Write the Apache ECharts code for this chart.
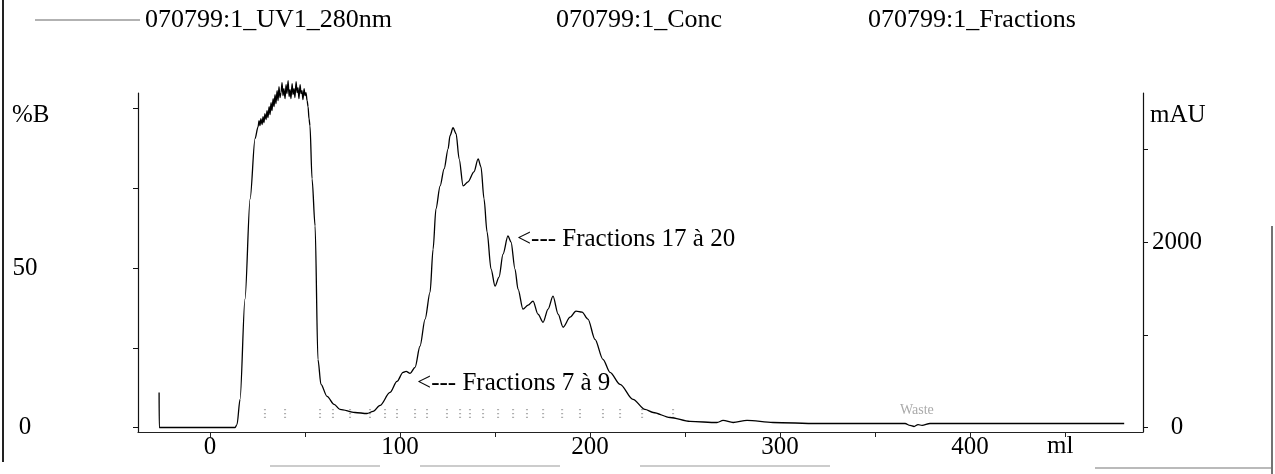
<!DOCTYPE html>
<html>
<head>
<meta charset="utf-8">
<script src="https://cdn.jsdelivr.net/npm/echarts@6/dist/echarts.min.js"></script>
<style>
  html, body { margin: 0; padding: 0; background: #fff; }
  #chart { width: 1275px; height: 474px; }
</style>
</head>
<body>
<div id="chart"></div>
<script>
// UV 280 nm trace: elution volume (ml) and absorbance (mAU)
const uvVolume = [
  -26.8, -26.7, 13.2, 14.2, 15.8, 18.4, 21.1, 23.7,
  25.3, 25.8, 26.3, 26.8, 27.4, 27.9, 28.4, 28.9, 29.5, 30.0,
  30.5, 31.1, 31.6, 32.1, 32.6, 33.2, 33.7, 34.2, 34.7, 35.3,
  35.8, 36.3, 36.8, 37.4, 37.9, 38.4, 38.9, 39.5, 40.0, 40.5,
  41.1, 41.6, 42.1, 42.6, 43.2, 43.7, 44.2, 44.7, 45.3, 45.8,
  46.3, 46.8, 47.4, 47.9, 48.4, 48.9, 49.5, 50.0, 50.5, 51.1,
  51.6, 52.1,
  52.6, 53.7, 55.3, 56.8, 58.4, 61.6, 65.3, 68.4, 76.3, 82.6,
  85.8, 89.5, 94.7, 98.4, 101.6, 103.2, 105.3, 107.9, 110.5, 113.2,
  115.8, 117.4, 118.9, 121.1, 123.2, 125.3, 126.3, 127.9, 129.5, 131.1,
  133.2, 135.8, 138.9, 141.1, 142.6, 144.2, 145.8, 147.9, 150.0, 152.1,
  154.2, 156.8, 158.4, 160.5, 162.1, 164.7, 167.4, 170.0, 172.6, 175.3,
  177.9, 180.5, 183.2, 185.8, 189.5, 192.6, 195.8, 198.9, 202.6, 206.8,
  210.5, 215.8, 222.6, 228.9, 233.2, 242.1, 252.6, 266.8, 270.0, 275.3,
  282.6, 296.3, 319.5, 363.2, 365.8, 368.4, 370.5, 372.6, 374.7, 378.9,
  415.8, 481.1
];
const uvAbsorbance = [
  378, 0, 0, 32, 303, 1384, 2465, 3114,
  3243, 3308, 3254, 3330, 3265, 3351, 3286, 3384, 3319, 3416,
  3341, 3459, 3373, 3503, 3416, 3546, 3459, 3589, 3492, 3632,
  3524, 3676, 3557, 3611, 3719, 3578, 3654, 3546, 3697, 3600,
  3741, 3568, 3643, 3546, 3708, 3589, 3654, 3557, 3730, 3611,
  3665, 3546, 3697, 3600, 3632, 3535, 3654, 3578, 3611, 3524,
  3459, 3330,
  3254, 2681, 2173, 735, 465, 335, 249, 195, 162, 151,
  173, 238, 378, 497, 595, 605, 584, 649, 876, 1168,
  1459, 1924, 2357, 2605, 2789, 3005, 3146, 3232, 3168, 2897,
  2605, 2649, 2757, 2897, 2811, 2465, 2108, 1708, 1524, 1622,
  1870, 2065, 2000, 1708, 1492, 1276, 1319, 1362, 1222, 1135,
  1276, 1416, 1222, 1081, 1189, 1254, 1243, 1168, 951, 735,
  595, 465, 303, 195, 162, 108, 65, 54, 76, 54,
  76, 54, 43, 43, 43, 22, 11, 32, 22, 43,
  43, 43
];

// Fraction collector marks (ml)
const fractionVolume = [
  28.9, 39.5, 57.9, 64.7, 73.7, 84.2, 92.1, 98.4, 107.9, 114.2,
  124.7, 131.6, 136.8, 143.7, 151.6, 159.5, 166.8, 175.3, 185.3, 194.7,
  206.8, 215.8, 227.4, 243.7
];
const fractionMarkLevel = 150;   // mAU, height at which fraction ticks are drawn
const wasteVolume = 372;

// Axis ticks and labels
const xTickValues = [0, 50, 100, 150, 200, 250, 300, 350, 400, 450];
const xLabelValues = [0, 100, 200, 300, 400];
const concTickValues = [0, 25, 50, 75, 100];
const concLabelValues = [0, 50];
const uvTickValues = [0, 1000, 2000, 3000];
const uvLabelValues = [0, 2000];

const seriesNames = ['070799:1_UV1_280nm', '070799:1_Conc', '070799:1_Fractions'];

const FONT = "'Liberation Serif', 'Times New Roman', serif";
const uvData = uvVolume.map((v, i) => [v, uvAbsorbance[i]]);
const fractionData = fractionVolume.map(v => [v, fractionMarkLevel]);
const plain = v => String(v);

const chart = echarts.init(document.getElementById('chart'), null, { renderer: 'canvas' });

const legendBase = {
  orient: 'horizontal',
  selectedMode: false,
  itemGap: 0,
  padding: 0,
  textStyle: { fontFamily: FONT, fontSize: 26, color: '#000' }
};

chart.setOption({
  animation: false,
  backgroundColor: '#fff',
  legend: [
    Object.assign({}, legendBase, {
      data: [{ name: seriesNames[0], icon: 'path://M0,0H100V1H0Z', itemStyle: { color: '#666' } }],
      left: 35, top: 7, itemWidth: 105, itemHeight: 1.2
    }),
    Object.assign({}, legendBase, {
      data: [seriesNames[1]], left: 550, top: 7, itemWidth: 0, itemHeight: 0
    }),
    Object.assign({}, legendBase, {
      data: [seriesNames[2]], left: 863, top: 7, itemWidth: 0, itemHeight: 0
    })
  ],
  grid: { left: 138, right: 132, top: 93, bottom: 42 },
  xAxis: {
    type: 'value',
    min: -37.9,
    max: 491,
    axisLine: { onZero: false, lineStyle: { color: '#222', width: 1.2 } },
    axisTick: { show: true, customValues: xTickValues, length: 5, lineStyle: { color: '#222' } },
    axisLabel: { customValues: xLabelValues, margin: 3, formatter: plain, fontFamily: FONT, fontSize: 25, color: '#000' },
    splitLine: { show: false }
  },
  yAxis: [
    {
      type: 'value',
      position: 'left',
      min: -1.41,
      max: 104.86,
      axisLine: { show: true, onZero: false, lineStyle: { color: '#111', width: 1.2 } },
      axisTick: { show: true, customValues: concTickValues, length: 5, lineStyle: { color: '#111' } },
      axisLabel: { customValues: concLabelValues, margin: 113, align: 'center', formatter: plain, fontFamily: FONT, fontSize: 25, color: '#000' },
      splitLine: { show: false }
    },
    {
      type: 'value',
      position: 'right',
      min: -48.5,
      max: 3606.5,
      axisLine: { show: true, onZero: false, lineStyle: { color: '#111', width: 1.2 } },
      axisTick: { show: true, customValues: uvTickValues, length: 5, lineStyle: { color: '#111' } },
      axisLabel: { customValues: uvLabelValues, margin: 34, align: 'center', formatter: plain, fontFamily: FONT, fontSize: 25, color: '#000' },
      splitLine: { show: false }
    }
  ],
  series: [
    {
      name: seriesNames[0],
      type: 'line',
      yAxisIndex: 1,
      data: uvData,
      symbol: 'none',
      smooth: 0.3,
      smoothMonotone: 'x',
      clip: false,
      silent: true,
      lineStyle: { color: '#000', width: 1.3 },
      itemStyle: { color: '#000' },
      markPoint: {
        symbol: 'circle',
        symbolSize: 0,
        silent: true,
        label: { show: true, position: 'right', fontFamily: FONT, fontSize: 25, color: '#000' },
        data: [
          { coord: [156.8, 2065], label: { formatter: '<--- Fractions 17 à 20', distance: 9, offset: [0, 3] } },
          { coord: [103.2, 605], label: { formatter: '<--- Fractions 7 à 9', distance: 11, offset: [0, 12] } }
        ]
      }
    },
    {
      name: seriesNames[1],
      type: 'line',
      yAxisIndex: 0,
      data: [],
      symbol: 'none',
      lineStyle: { color: '#000', width: 1 },
      itemStyle: { color: '#000' }
    },
    {
      name: seriesNames[2],
      type: 'scatter',
      yAxisIndex: 1,
      data: fractionData,
      symbol: 'path://M0,0h1v1h-1z M0,3h1v1h-1z M0,6h1v1h-1z',
      symbolSize: [2, 9],
      silent: true,
      itemStyle: { color: '#9a9a9a' },
      markPoint: {
        symbol: 'circle',
        symbolSize: 0,
        silent: true,
        label: { show: true, position: 'inside', fontFamily: FONT, fontSize: 14, color: '#aaa', formatter: 'Waste' },
        data: [{ coord: [wasteVolume, 180] }]
      }
    }
  ],
  graphic: [
    { type: 'text', left: 12, top: 103, style: { text: '%B', fontFamily: FONT, fontSize: 25, fill: '#000' } },
    { type: 'text', left: 1150, top: 103, style: { text: 'mAU', fontFamily: FONT, fontSize: 25, fill: '#000' } },
    { type: 'text', left: 1047, top: 434, style: { text: 'ml', fontFamily: FONT, fontSize: 25, fill: '#000' } },
    // page edges
    { type: 'line', shape: { x1: 3, y1: 0, x2: 3, y2: 462 }, style: { stroke: '#222', lineWidth: 2 } },
    { type: 'line', shape: { x1: 1272, y1: 226, x2: 1272, y2: 474 }, style: { stroke: '#444', lineWidth: 1.5 } },
    { type: 'line', shape: { x1: 1095, y1: 468, x2: 1272, y2: 468 }, style: { stroke: '#777', lineWidth: 1.2 } },
    { type: 'line', shape: { x1: 270, y1: 466, x2: 380, y2: 466 }, style: { stroke: '#999', lineWidth: 1 } },
    { type: 'line', shape: { x1: 420, y1: 466, x2: 560, y2: 466 }, style: { stroke: '#999', lineWidth: 1 } },
    { type: 'line', shape: { x1: 640, y1: 466, x2: 830, y2: 466 }, style: { stroke: '#999', lineWidth: 1 } }
  ]
});
</script>
</body>
</html>
